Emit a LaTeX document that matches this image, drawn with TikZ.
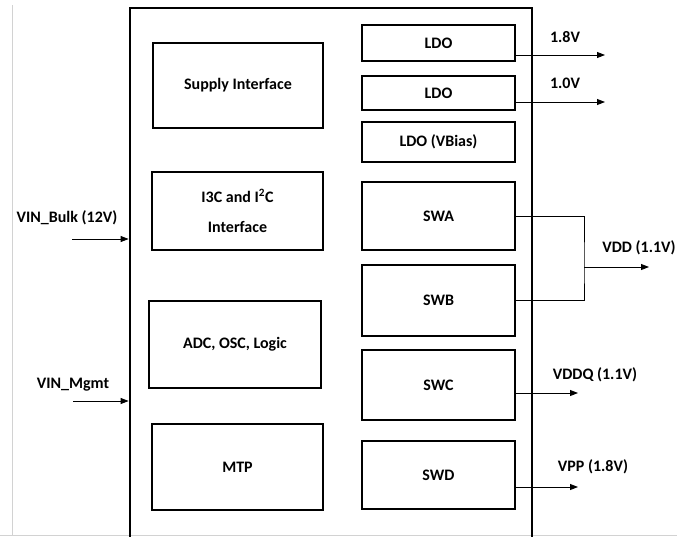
\documentclass[tikz,border=0pt]{standalone}
\usepackage{fontspec}
\setmainfont{Carlito}
\usetikzlibrary{arrows.meta}
\tikzset{
  blk/.style={draw,line width=2.8pt,inner sep=0pt,font=\fontsize{16}{18}\selectfont\bfseries},
  lbl/.style={font=\fontsize{16}{18}\selectfont\bfseries,inner sep=0pt},
  sig/.style={line width=.9pt,-{Triangle[length=8pt,width=6pt]}},
  wire/.style={line width=.9pt},
}
\begin{document}
\begin{tikzpicture}[x=1pt,y=-1pt]
  \useasboundingbox (0,0) rectangle (677,536);
  \clip (0,0) rectangle (677,536);
  % page edges of the scan
  \draw[gray!35,line width=.8pt] (12,5)--(12,535) (0,535)--(677,535);
  % chip outline
  \node[draw,line width=2.8pt,minimum width=402pt,minimum height=540pt,inner sep=0pt] (chip) at (331,278) {};
  % left column
  \node[blk,minimum width=170pt,minimum height=85pt] (supply) at (238,85.5) {Supply Interface};
  \node[blk,minimum width=171pt,minimum height=78pt,align=center] (iic) at (237.5,211) {I3C and I\textsuperscript{2}C\\[12pt]Interface};
  \node[blk,minimum width=172pt,minimum height=87pt] (adc) at (235,344.5) {ADC, OSC, Logic};
  \node[blk,minimum width=171pt,minimum height=86pt] (mtp) at (237.5,467) {MTP};
  % right column
  \node[blk,minimum width=153pt,minimum height=36pt] (ldoa) at (438.5,43) {LDO};
  \node[blk,minimum width=153pt,minimum height=34pt] (ldob) at (438.5,93) {LDO};
  \node[blk,minimum width=153pt,minimum height=40pt] (ldobias) at (438.5,142) {LDO (VBias)};
  \node[blk,minimum width=153pt,minimum height=68pt] (swa) at (438.5,216) {SWA};
  \node[blk,minimum width=153pt,minimum height=71pt] (swb) at (438.5,300.5) {SWB};
  \node[blk,minimum width=153pt,minimum height=70pt] (swc) at (438.5,385) {SWC};
  \node[blk,minimum width=153pt,minimum height=68pt] (swd) at (438.5,475) {SWD};
  % outputs
  \coordinate (o18) at (605,55);
  \coordinate (o10) at (605,102);
  \coordinate (join) at (584,267);
  \coordinate (ovdd) at (649,267);
  \coordinate (ovddq) at (578,393);
  \coordinate (ovpp) at (578,487);
  \draw[sig] (o18 -| ldoa.east) -- (o18);
  \draw[sig] (o10 -| ldob.east) -- (o10);
  \draw[wire] (swa.east) -| (join) |- (swb.east);
  \draw[sig] (join) -- (ovdd);
  \draw[sig] (ovddq -| swc.east) -- (ovddq);
  \draw[sig] (ovpp -| swd.east) -- (ovpp);
  \node[lbl] (t18) at (565,37) {1.8V};
  \node[lbl] (t10) at (565,83) {1.0V};
  \node[lbl] (tvdd) at (639,248) {VDD (1.1V)};
  \node[lbl] (tvddq) at (595,375) {VDDQ (1.1V)};
  \node[lbl] (tvpp) at (593,467) {VPP (1.8V)};
  % inputs
  \coordinate (ibulk) at (72,239);
  \coordinate (imgmt) at (73,401);
  \draw[sig] (ibulk) -- (ibulk -| chip.west);
  \draw[sig] (imgmt) -- (imgmt -| chip.west);
  \node[lbl] (tbulk) at (67,218) {VIN\_Bulk (12V)};
  \node[lbl] (tmgmt) at (73,385) {VIN\_Mgmt};
\end{tikzpicture}
\end{document}
